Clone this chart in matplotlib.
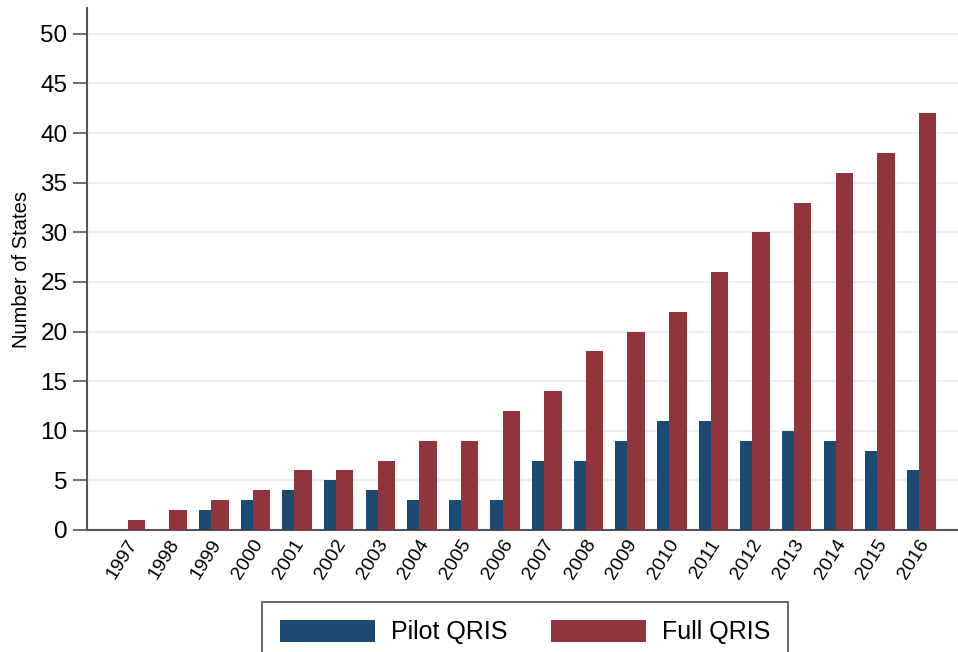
import matplotlib
matplotlib.use("Agg")
import matplotlib.pyplot as plt
import numpy as np

years = ["1997", "1998", "1999", "2000", "2001", "2002", "2003", "2004", "2005", "2006",
         "2007", "2008", "2009", "2010", "2011", "2012", "2013", "2014", "2015", "2016"]
pilot = [0, 0, 2, 3, 4, 5, 4, 3, 3, 3, 7, 7, 9, 11, 11, 9, 10, 9, 8, 6]
full = [1, 2, 3, 4, 6, 6, 7, 9, 9, 12, 14, 18, 20, 22, 26, 30, 33, 36, 38, 42]
yticks = [0, 5, 10, 15, 20, 25, 30, 35, 40, 45, 50]

plt.rcParams['font.family'] = ['Liberation Sans', 'DejaVu Sans']

fig = plt.figure(figsize=(9.58, 6.52), dpi=100)
ax = fig.add_axes([87/958, 1 - 530/652, (958 - 87)/958, (530 - 8)/652])

x = np.arange(len(years))
wp, wf = 0.29, 0.42
navy = "#1c4a70"
maroon = "#90353b"
ax.bar(x - wp/2, pilot, width=wp, color=navy, label="Pilot QRIS", zorder=3)
ax.bar(x + wf/2, full, width=wf, color=maroon, label="Full QRIS", zorder=3)

ax.set_xlim(-0.98, len(years) - 1 + 0.94)
ax.set_ylim(0, 52.6)
ax.set_yticks(yticks)
ax.set_yticklabels([str(v) for v in yticks], fontsize=17.5)
ax.yaxis.grid(True, color="#e9f1f3", linewidth=1.5, zorder=0)
ax.set_axisbelow(True)

ax.set_xticks(x + 0.15)
ax.set_xticklabels(years, rotation=58, ha='right', va='center', rotation_mode='anchor', fontsize=14)
ax.tick_params(axis='x', length=0, pad=8)
ax.tick_params(axis='y', length=10, width=1.2, color="#555555", pad=4)

for s in ['top', 'right']:
    ax.spines[s].set_visible(False)
for s in ['left', 'bottom']:
    ax.spines[s].set_color("#555555")
    ax.spines[s].set_linewidth(1.5)

ax.set_ylabel("Number of States", fontsize=14.5)
ax.yaxis.set_label_coords(-(87 - 22) / 871, 0.5)
ax.yaxis.label.set_va('center')

leg = fig.legend(loc='upper center', bbox_to_anchor=(525/958, 1 - 602/652), ncol=2,
                 fontsize=18, handlelength=3.8, handleheight=1.0, handletextpad=0.64,
                 columnspacing=1.76, borderpad=0.7, borderaxespad=0, fancybox=False, frameon=True)
leg.get_frame().set_edgecolor("#222222")
leg.get_frame().set_linewidth(1.2)

fig.savefig("out.png", dpi=100)
